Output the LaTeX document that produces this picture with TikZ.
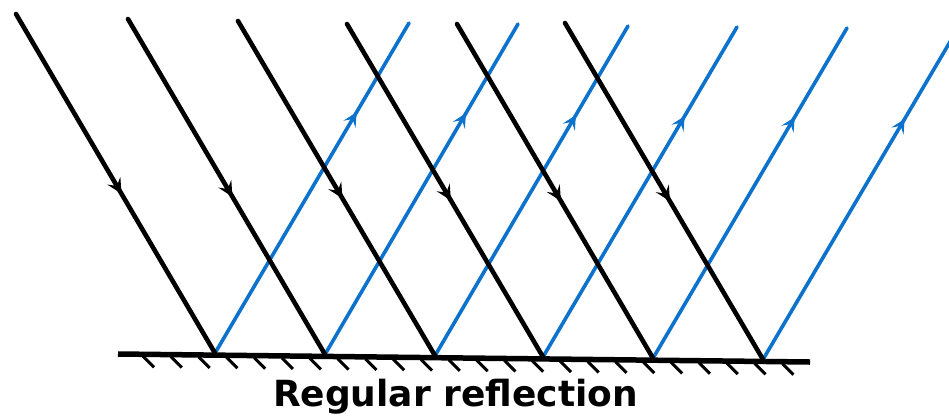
\documentclass[tikz,border=0pt]{standalone}
\usepackage{fontspec}
\setmainfont{DejaVu Sans}
\usetikzlibrary{arrows.meta,calc,decorations.markings}
\definecolor{rayblue}{RGB}{12,114,204}
\begin{document}
\begin{tikzpicture}[
  x=1pt, y=-1pt,
  mirror/.style={line width=5.5pt},
  hatch/.style={line width=3pt},
  incident/.style={line width=4.6pt, line cap=round, postaction={decorate},
    decoration={markings, mark=at position 0.53 with {\arrow{Stealth[length=15pt,width=15pt,inset=6pt]}}}},
  reflected/.style={rayblue, line width=3.6pt, line cap=round, postaction={decorate},
    decoration={markings, mark=at position 0.73 with {\arrow{Stealth[length=14pt,width=14pt,inset=6pt]}}}},
  caption/.style={font=\bfseries\fontsize{36}{40}\selectfont, inner sep=0pt, anchor=base}
]
\useasboundingbox (0,0) rectangle (949,416);

% Mirror
\coordinate (mleft) at (118,354);
\coordinate (mright) at (810,362);
\draw[mirror] (mleft) -- (mright);
\foreach \i in {0,...,23}
  \draw[hatch] ($(mleft)!{(143+27.8*\i-118)/692}!(mright)+(0,2)$) -- ++(11,11);

% Points
\foreach \n/\ax/\ay/\px/\bx/\by in {1/16/14/215/409/23, 2/128/19/325/518/24,
    3/238/21/435/628/26, 4/347/24/543/737/27, 5/457/24/653/847/28, 6/565/23/763/957/30}
{
  \coordinate (in\n) at (\ax,\ay);
  \coordinate (p\n) at (\px,{354+(\px-118)*8/692-2});
  \coordinate (out\n) at (\bx,\by);
}

% Rays
\foreach \n in {1,...,6}
  \draw[reflected] (p\n) -- (out\n);
\foreach \n in {1,...,6}
  \draw[incident] (in\n) -- (p\n);

% Caption
\node[caption] (title) at (455.5,406) {Regular reflection};

\end{tikzpicture}
\end{document}
